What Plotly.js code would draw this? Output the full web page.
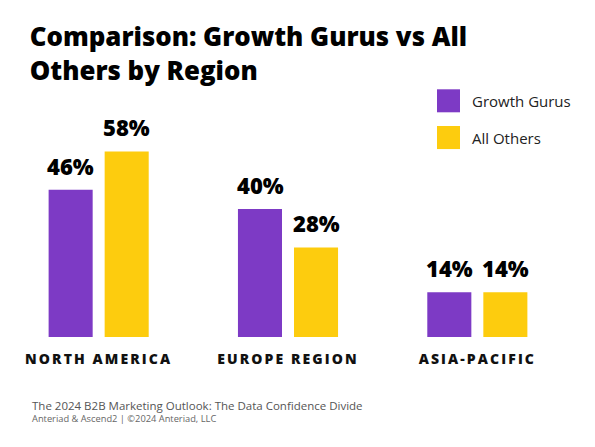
<!DOCTYPE html>
<html>
<head>
<meta charset="utf-8">
<script src="https://cdn.plot.ly/plotly-3.0.1.min.js"></script>
<style>
  html, body { margin: 0; padding: 0; background: #fff; }
  #chart { width: 595px; height: 447px; }
  .xtick text { letter-spacing: 2.1px; }
</style>
</head>
<body>
<div id="chart"></div>
<script>
const categories = ['NORTH AMERICA', 'EUROPE REGION', 'ASIA-PACIFIC'];
const seriesNames = ['Growth Gurus', 'All Others'];
const growthGurus = [46, 40, 14];
const allOthers = [58, 28, 14];
const titleText = 'Comparison: Growth Gurus vs All<br>Others by Region';
const sourceLine = 'The 2024 B2B Marketing Outlook: The Data Confidence Divide';
const creditLine = 'Anteriad & Ascend2 | ©2024 Anteriad, LLC';

const colors = ['#7D3AC5', '#FDCC0E'];
const seriesValues = [growthGurus, allOthers];
const FONT = 'Open Sans, sans-serif';

const traces = seriesValues.map((vals, i) => ({
  type: 'bar',
  name: seriesNames[i],
  x: categories,
  y: vals,
  marker: { color: colors[i] },
  hoverinfo: 'skip',
  showlegend: false
}));

const annotations = [];
seriesValues.forEach((vals, s) => {
  vals.forEach((v, c) => {
    annotations.push({
      x: categories[c], y: v, xref: 'x', yref: 'y',
      xshift: s === 0 ? -28 : 28, yshift: 7,
      yanchor: 'bottom', xanchor: 'center',
      text: v + '%', showarrow: false,
      font: { family: FONT, size: 22, color: '#000', weight: 800 }
    });
  });
});

// custom legend
const legendY = [[1.1058, 1.0031], [0.942, 0.839]];
const legendTextY = [1.0545, 0.8906];
const shapes = [];
seriesNames.forEach((n, i) => {
  shapes.push({
    type: 'rect', xref: 'paper', yref: 'paper',
    x0: 0.7623, x1: 0.8028, y0: legendY[i][1], y1: legendY[i][0],
    fillcolor: colors[i], line: { width: 0 }
  });
  annotations.push({
    xref: 'paper', yref: 'paper', x: 0.8204, y: legendTextY[i],
    xanchor: 'left', yanchor: 'middle', showarrow: false,
    text: n, font: { family: FONT, size: 15, color: '#222' }
  });
});

annotations.push({
  xref: 'paper', yref: 'paper', x: 0.0458, y: -0.3036,
  xanchor: 'left', yanchor: 'middle', showarrow: false,
  text: sourceLine, font: { family: FONT, size: 11.5, color: '#555' }
});
annotations.push({
  xref: 'paper', yref: 'paper', x: 0.0458, y: -0.366,
  xanchor: 'left', yanchor: 'middle', showarrow: false,
  text: creditLine, font: { family: FONT, size: 9.3, color: '#666' }
});

const layout = {
  width: 595, height: 447,
  margin: { l: 4, r: 23, t: 113, b: 110, pad: 0 },
  paper_bgcolor: '#fff', plot_bgcolor: '#fff',
  barmode: 'group', bargap: 0.408, bargroupgap: 0.214,
  title: {
    text: titleText,
    x: 0.05, xanchor: 'left', xref: 'container',
    y: 0.897, yanchor: 'top', yref: 'container',
    font: { family: FONT, size: 25.8, color: '#000', weight: 800 }
  },
  xaxis: {
    type: 'category', range: [-0.5, 2.5],
    showgrid: false, zeroline: false, showline: false, ticks: '',
    ticklabelstandoff: 12,
    tickfont: { family: FONT, size: 14, color: '#111', weight: 800 }
  },
  yaxis: {
    range: [0, 70], visible: false, showgrid: false, zeroline: false
  },
  annotations: annotations,
  shapes: shapes,
  showlegend: false
};

Plotly.newPlot('chart', traces, layout, { displayModeBar: false, staticPlot: true });
</script>
</body>
</html>
